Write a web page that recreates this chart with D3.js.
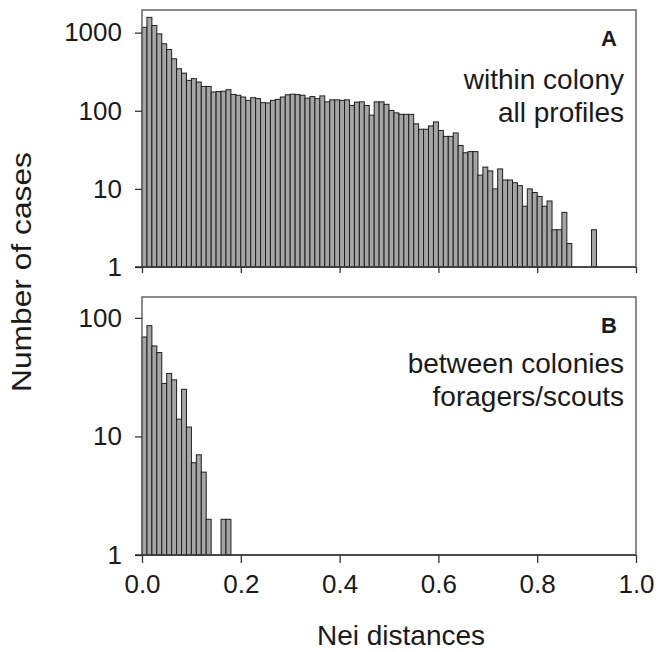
<!DOCTYPE html>
<meta charset="utf-8">
<head>
<style>
body { margin: 0; background: #fff; }
text { font-family: 'Liberation Sans', Arial, sans-serif; fill: #1a1a1a; }
.axis text { font-size: 26px; }
.axis line, .axis path { stroke: #333; stroke-width: 1.3; }
.bar { fill: #a5a5a5; stroke: #1e1e1e; stroke-width: 1; }
.frame { fill: none; stroke: #666; stroke-width: 1.5; }
.note { font-size: 28px; text-anchor: end; }
.letter { font-size: 22px; font-weight: bold; text-anchor: end; }
</style>
<script src="https://cdnjs.cloudflare.com/ajax/libs/d3/7.8.5/d3.min.js"></script>
</head>
<body>
<svg id="chart"></svg>
<script>

// bin width of the histograms (Nei distance)
var binWidth = 0.01

// panel A: within colony, all profiles (counts per 0.01 bin from 0.00)
var countsA = [1170,1570,1235,965,720,608,463,345,303,245,
  258,233,205,205,174,176,178,186,162,158,
  150,136,147,143,127,126,136,140,150,160,
  163,161,158,145,152,143,155,130,138,138,
  136,138,117,129,130,117,88,130,130,121,
  101,94,90,90,90,68,58,58,64,72,
  56,47,47,52,36,29,30,30,15,19,
  17,10,18,13,13,12,11,6,10,9,
  8,6,7,3,3,5,2,0,0,0,
  0,3]

// panel B: between colonies, foragers/scouts
var countsB = [69,86,58,51,28,34,30,14,25,12,6,7,5,2,0,0,2,2]

var xTicks = [0, 0.2, 0.4, 0.6, 0.8, 1.0]
var yTicksA = [1, 10, 100, 1000]
var yTicksB = [1, 10, 100]

var width = 658, height = 652

var svg = d3.select('#chart')
  .attr('width', width)
  .attr('height', height)

var x = d3.scaleLinear().domain([0, 1]).range([142, 636])

var panels = [
  {counts: countsA, ticks: yTicksA, top: 10, bottom: 267, max: 1950,
   letter: 'A', lines: ['within colony', 'all profiles'], labelY: 80},
  {counts: countsB, ticks: yTicksB, top: 297, bottom: 555, max: 150,
   letter: 'B', lines: ['between colonies', 'foragers/scouts'], labelY: 364}
]

panels.forEach(function (p, k) {
  var y = d3.scaleLog().domain([1, p.max]).range([p.bottom, p.top])

  var bins = p.counts.map(function (c, i) { return {x0: i * binWidth, n: c} })
    .filter(function (d) { return d.n > 0 })

  var g = svg.append('g')

  g.selectAll('.bar')
    .data(bins)
    .enter().append('rect')
    .attr('class', 'bar')
    .attr('x', function (d) { return x(d.x0) })
    .attr('width', function (d) { return x(d.x0 + binWidth) - x(d.x0) })
    .attr('y', function (d) { return y(d.n) })
    .attr('height', function (d) { return y(1) - y(d.n) })

  g.append('rect')
    .attr('class', 'frame')
    .attr('x', x(0))
    .attr('y', p.top)
    .attr('width', x(1) - x(0))
    .attr('height', p.bottom - p.top)

  // y axis
  var ya = g.append('g')
    .attr('class', 'axis')
    .attr('transform', 'translate(' + x(0) + ',0)')
    .call(d3.axisLeft(y).tickValues(p.ticks).tickFormat(d3.format('d')).tickSize(7).tickPadding(13))
  ya.select('.domain').remove()

  // x axis
  var xa = g.append('g')
    .attr('class', 'axis')
    .attr('transform', 'translate(0,' + p.bottom + ')')
    .call(d3.axisBottom(x).tickValues(xTicks).tickFormat(d3.format('.1f')).tickSize(k == 0 ? 6 : 8).tickPadding(12))
  xa.select('.domain').attr('d', 'M' + (x(0) - 7) + ',0H' + x(1))
  if (k == 0) xa.selectAll('text').remove()

  g.append('text')
    .attr('class', 'letter')
    .attr('x', 617)
    .attr('y', p.top + 36)
    .text(p.letter)

  g.selectAll('.note')
    .data(p.lines)
    .enter().append('text')
    .attr('class', 'note')
    .attr('x', 624)
    .attr('y', function (d, i) { return p.labelY + 9 + i * 33 })
    .text(function (d) { return d })
})

svg.append('text')
  .attr('transform', 'translate(31,272) rotate(-90)')
  .attr('text-anchor', 'middle')
  .attr('textLength', 240)
  .attr('lengthAdjust', 'spacingAndGlyphs')
  .style('font-size', '27px')
  .text('Number of cases')

svg.append('text')
  .attr('x', 401)
  .attr('y', 645)
  .attr('text-anchor', 'middle')
  .style('font-size', '28px')
  .text('Nei distances')

</script>
</body>
